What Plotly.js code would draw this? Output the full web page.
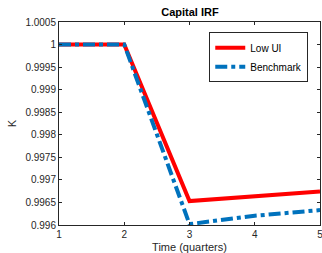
<!DOCTYPE html>
<html><head><meta charset="utf-8">
<script src="https://cdn.plot.ly/plotly-3.0.1.min.js"></script>
<style>html,body{margin:0;padding:0;background:#fff}#c{width:322px;height:253px}</style>
</head><body><div id="c"></div>
<script>
const quarters = [1, 2, 3, 4, 5];
const lowUI = [1, 1, 0.99653, 0.99664, 0.996745];
const benchmark = [1, 1, 0.99602, 0.996205, 0.99633];
const yTicks = [0.996, 0.9965, 0.997, 0.9975, 0.998, 0.9985, 0.999, 0.9995, 1, 1.0005];
const yTickText = ['0.996','0.9965','0.997','0.9975','0.998','0.9985','0.999','0.9995','1','1.0005'];

const font = {family: 'Liberation Sans, Arial, sans-serif', size: 10, color: '#262626'};
Plotly.newPlot('c', [
  {x: quarters, y: lowUI, name: 'Low UI', mode: 'lines', line: {color: '#ff0000', width: 4}},
  {x: quarters, y: benchmark, name: 'Benchmark', mode: 'lines', line: {color: '#0072bd', width: 4, dash: 'dashdot'}}
], {
  width: 322, height: 253,
  margin: {l: 59, r: 2, t: 22, b: 28},
  paper_bgcolor: '#fff', plot_bgcolor: '#fff',
  font: font,
  title: {text: '<b>Capital IRF</b>', font: {family: font.family, size: 11, color: '#000'}, x: 0.59, xanchor: 'center', y: 0.952, yanchor: 'middle'},
  xaxis: {range: [1, 5], tickvals: quarters, ticks: 'inside', ticklen: 3, showgrid: false, zeroline: false,
    showline: true, mirror: 'ticks', linecolor: '#262626', linewidth: 1, tickcolor: '#262626', ticklabeloverflow: 'allow',
    title: {text: 'Time (quarters)', font: {family: font.family, size: 11, color: '#262626'}, standoff: 4}},
  yaxis: {range: [0.996, 1.0005], tickvals: yTicks, ticktext: yTickText, ticks: 'inside', ticklen: 3, showgrid: false, zeroline: false,
    showline: true, mirror: 'ticks', linecolor: '#262626', linewidth: 1, tickcolor: '#262626',
    title: {text: 'K', font: {family: font.family, size: 11, color: '#262626'}, standoff: 6}},
  showlegend: true,
  legend: {x: 0.955, xanchor: 'right', y: 0.95, yanchor: 'top', bgcolor: '#fff', bordercolor: '#262626', borderwidth: 1,
    font: {family: font.family, size: 10, color: '#000'}, tracegroupgap: 0, itemwidth: 30}
}, {displayModeBar: false, staticPlot: true});
</script></body></html>
